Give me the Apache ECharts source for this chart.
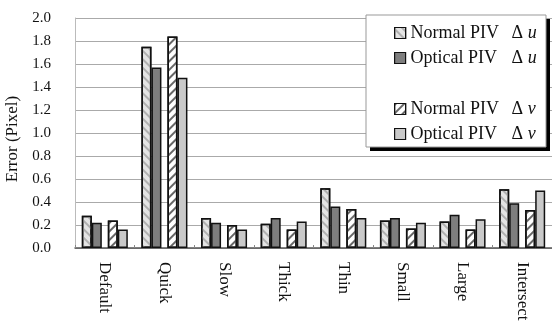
<!DOCTYPE html>
<html><head><meta charset="utf-8">
<script src="https://cdn.jsdelivr.net/npm/echarts@6/dist/echarts.min.js"></script>
<style>html,body{margin:0;padding:0;background:#fff}#c{width:552px;height:329px}</style>
</head><body><div id="c"></div>
<script>
const categories = ['Default','Quick','Slow','Thick','Thin','Small','Large','Intersect'];
const normalU  = [0.28,1.75,0.26,0.21,0.52,0.24,0.23,0.51];
const opticalU = [0.22,1.57,0.22,0.26,0.36,0.26,0.29,0.39];
const normalV  = [0.24,1.84,0.20,0.16,0.34,0.17,0.16,0.33];
const opticalV = [0.16,1.48,0.16,0.23,0.26,0.22,0.25,0.50];
const yTicks = [0,0.2,0.4,0.6,0.8,1.0,1.2,1.4,1.6,1.8,2.0];
const seriesNames = ['Normal PIV Δu','Optical PIV Δu','Normal PIV Δv','Optical PIV Δv'];

const F = "'Liberation Serif','Times New Roman',serif";
const border = {borderColor:'#111', borderWidth:1.5};
function bar(name, data, color, decal){
  const s = {name, type:'bar', data, barWidth:10, barGap:'0%', barCategoryGap:'0%',
    itemStyle:Object.assign({color}, border), z:2};
  if (decal) s.itemStyle.decal = decal;
  return s;
}
const chart = echarts.init(document.getElementById('c'));
const legendFmt = name => {
  const i = name.indexOf(' Δ');
  return '{a|' + name.slice(0,i) + '}{b|Δ }{c|' + name.slice(i+2) + '}';
};
const legendRich = {
  a:{fontFamily:F, fontSize:18, width:101, color:'#111'},
  b:{fontFamily:F, fontSize:18, color:'#111'},
  c:{fontFamily:F, fontSize:18, fontStyle:'italic', color:'#111'}
};
const legendBase = {orient:'vertical', left:389, icon:'rect', itemWidth:11, itemHeight:11,
  itemGap:7, formatter:legendFmt, textStyle:{rich:legendRich}, z:10,
  itemStyle:{borderColor:'#111', borderWidth:1.2}, selectedMode:false};
chart.setOption({
  animation:false,
  backgroundColor:'#fff',
  grid:{left:75, right:0, top:18, bottom:81, outerBoundsMode:'none', containLabel:false},
  legend:[
    Object.assign({}, legendBase, {top:19, data:[seriesNames[0], seriesNames[1]]}),
    Object.assign({}, legendBase, {top:95, data:[seriesNames[2], seriesNames[3]]})
  ],
  graphic:[
    {type:'rect', shape:{x:370, y:19, width:180, height:132}, style:{fill:'#000'}, z:1},
    {type:'rect', shape:{x:366, y:15, width:180, height:132}, style:{fill:'#fff', stroke:'#999', lineWidth:1}, z:1}
  ],
  xAxis:{type:'category', data:categories,
    axisLine:{lineStyle:{color:'#555', width:1.5}},
    axisTick:{show:true, inside:true, length:3, lineStyle:{color:'#888'}},
    axisLabel:{rotate:-90, fontFamily:F, fontSize:17, color:'#111', margin:14}},
  yAxis:{type:'value', min:0, max:2, interval:0.2,
    name:'Error (Pixel)', nameLocation:'middle', nameGap:50, nameRotate:90,
    nameTextStyle:{fontFamily:F, fontSize:17, color:'#111', padding:[0,12,0,0]},
    axisLine:{show:true, lineStyle:{color:'#bbb'}},
    axisTick:{show:false},
    axisLabel:{fontFamily:F, fontSize:15, color:'#111', margin:24,
      formatter:v => { const t = yTicks.find(x => Math.abs(x-v)<1e-6); return (t===undefined?v:t).toFixed(1); }},
    splitLine:{lineStyle:{color:'#aaa', width:1}}},
  series:[
    bar(seriesNames[0], normalU, '#e4e4e4', {symbol:'rect', symbolSize:1, dashArrayX:[1,0], dashArrayY:[1.5,3.5], rotation:Math.PI/4, color:'#b0b0b0'}),
    bar(seriesNames[1], opticalU, '#7e7e7e'),
    {name:'gap', type:'bar', data:categories.map(()=>'-'), barWidth:6, barGap:'0%', itemStyle:{opacity:0}},
    bar(seriesNames[2], normalV, '#ffffff', {symbol:'rect', symbolSize:1, dashArrayX:[1,0], dashArrayY:[1.5,3.5], rotation:-Math.PI/4, color:'#666'}),
    bar(seriesNames[3], opticalV, '#c9c9c9')
  ]
});
</script></body></html>
